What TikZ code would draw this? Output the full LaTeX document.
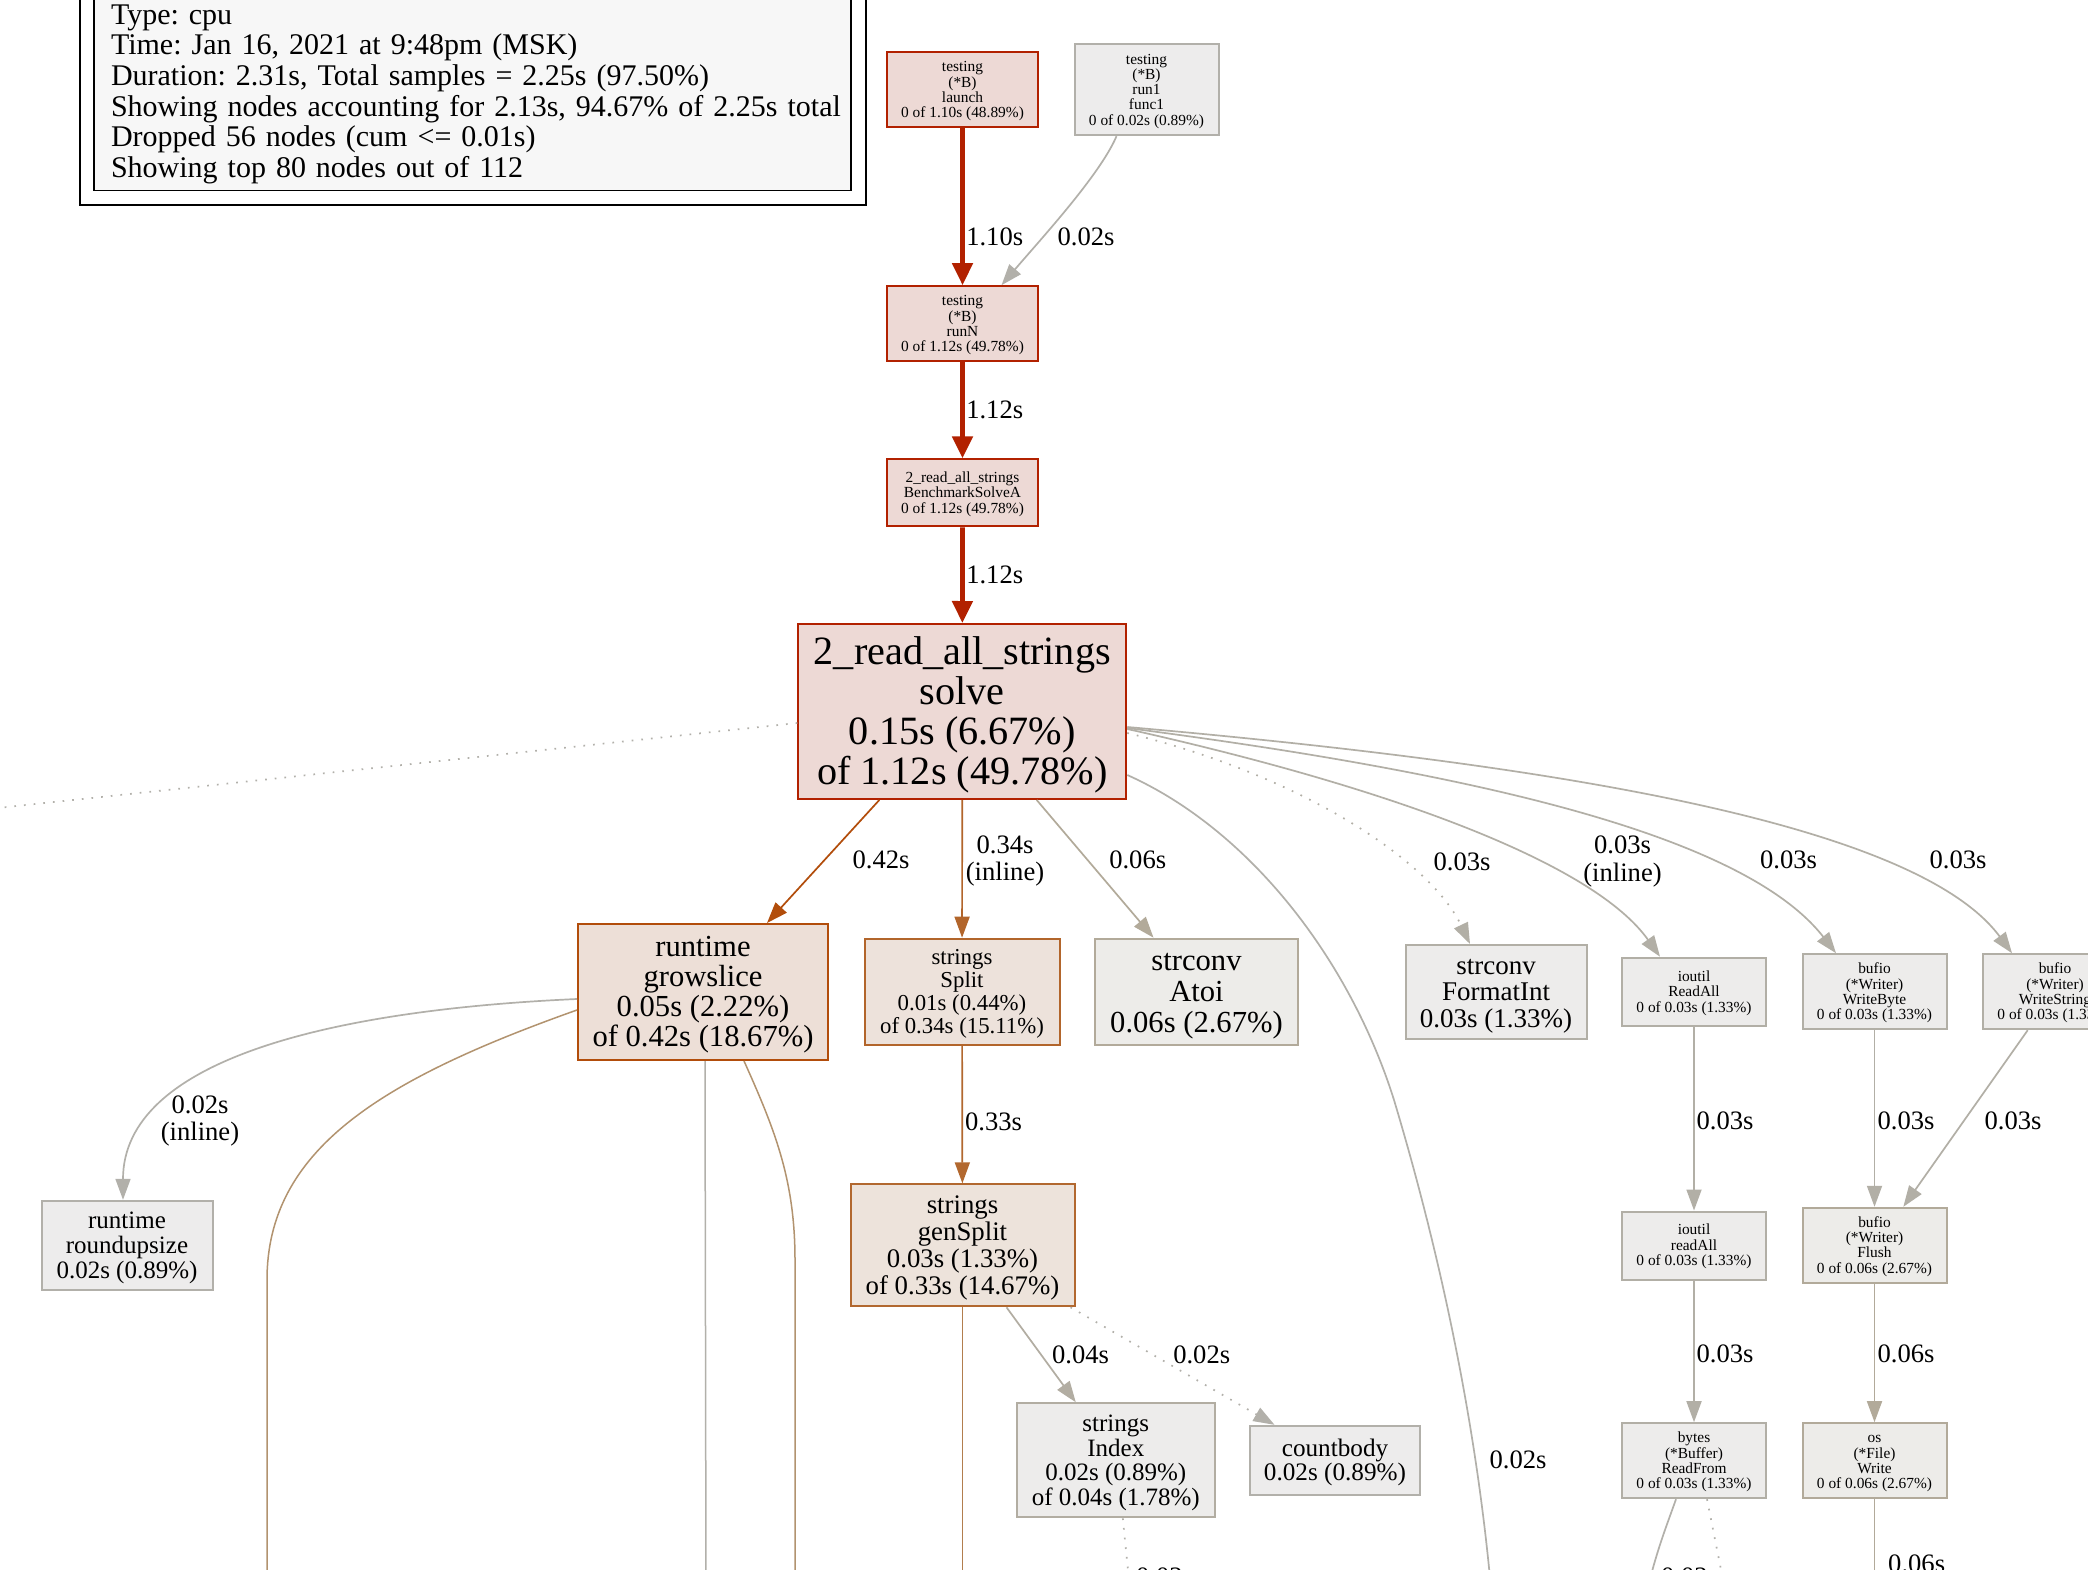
\documentclass[tikz,border=0pt]{standalone}
\usepackage{fontspec}
\setmainfont{Liberation Serif}
\usetikzlibrary{arrows.meta,calc}
\newcommand\fsz[2]{\fontsize{#1}{#2}\selectfont}
\newcommand\upr{\rule{0pt}{0.86em}}
\frenchspacing
\definecolor{redF}{HTML}{EDD9D5}
\definecolor{redD}{HTML}{B22100}
\definecolor{orF}{HTML}{EDDFD7}
\definecolor{orD}{HTML}{B24D0B}
\definecolor{spF}{HTML}{EDE2DB}
\definecolor{spD}{HTML}{B2652B}
\definecolor{gsF}{HTML}{EDE3DB}
\definecolor{gsD}{HTML}{B2682F}
\definecolor{tanD}{HTML}{B2936F}
\definecolor{tanE}{HTML}{B27E4E}
\definecolor{gaF}{HTML}{EDECEC}
\definecolor{gaD}{HTML}{B2B0AA}
\definecolor{gbF}{HTML}{EDECEB}
\definecolor{gbD}{HTML}{B2AFA6}
\definecolor{gcF}{HTML}{EDECEB}
\definecolor{gcD}{HTML}{B2ADA2}
\definecolor{gdF}{HTML}{EDECE9}
\definecolor{gdD}{HTML}{B2AA9A}
\definecolor{legF}{HTML}{F7F7F7}
\begin{document}
\begin{tikzpicture}[x=1pt,y=-1pt,
  gnode/.style={rectangle, draw, line width=2pt, inner sep=0pt, align=center, text=black},
  nred/.style={gnode, fill=redF, draw=redD},
  nor/.style={gnode, fill=orF, draw=orD},
  nsp/.style={gnode, fill=spF, draw=spD},
  ngs/.style={gnode, fill=gsF, draw=gsD},
  nga/.style={gnode, fill=gaF, draw=gaD},
  ngb/.style={gnode, fill=gbF, draw=gbD},
  ngc/.style={gnode, fill=gcF, draw=gcD},
  ngd/.style={gnode, fill=gdF, draw=gdD},
  smallf/.style={font={\fsz{15.4}{15.3}}},
  elabel/.style={font={\fsz{26.6}{27.7}}, align=center, inner sep=0pt, text=black},
  hot/.style={draw=redD, line width=4.8pt, -{Triangle[length=22pt,width=20pt]}},
  arr/.style={line width=1.7pt, -{Triangle[length=21pt,width=15pt]}},
  plain/.style={line width=1.7pt},
  dotline/.style={dash pattern=on 1.7pt off 8pt}
]
\useasboundingbox (0,0) rectangle (2088,1570);
\fill[white] (0,0) rectangle (2088,1570);
\clip (0,0) rectangle (2088,1570);

% legend
\node[draw=black, line width=1.6pt, fill=legF, text width=723pt, inner xsep=17pt, inner ysep=0pt,
  minimum height=199pt, align=left, font={\fsz{30}{30.6}}] (legend) at (472.5,91)
  {\rule{0pt}{26pt}Type: cpu\\Time: Jan 16, 2021 at 9:48pm (MSK)\\Duration: 2.31s, Total samples = 2.25s (97.50\%)\\\mbox{Showing nodes accounting for 2.13s, 94.67\% of 2.25s total}\\Dropped 56 nodes (cum <= 0.01s)\\Showing top 80 nodes out of 112};
\draw[line width=1.6pt] ($(legend.north west)+(-13,-14)$) rectangle ($(legend.south east)+(14,14)$);

% nodes
\node[nred, smallf, minimum width=151pt, minimum height=75pt] (launch) at (962.5,89.7) {\upr testing\\(*B)\\launch\\0 of 1.10s (48.89\%)};
\node[nga, smallf, minimum width=144pt, minimum height=91pt] (run1) at (1146.5,89.7) {\upr testing\\(*B)\\run1\\func1\\0 of 0.02s (0.89\%)};
\node[nred, smallf, minimum width=151pt, minimum height=75pt] (runN) at (962.5,323.7) {\upr testing\\(*B)\\runN\\0 of 1.12s (49.78\%)};
\node[nred, smallf, minimum width=151pt, minimum height=67pt] (bsa) at (962.5,492.8) {\upr 2\_read\_all\_strings\\BenchmarkSolveA\\0 of 1.12s (49.78\%)};
\node[nred, font={\fsz{40.2}{40}}, minimum width=328pt, minimum height=175pt] (solve) at (962.3,711.5) {\upr 2\_read\_all\_strings\\solve\\0.15s (6.67\%)\\of 1.12s (49.78\%)};
\node[nor, font={\fsz{30.6}{30}}, minimum width=250pt, minimum height=136pt] (grow) at (703,992) {\upr runtime\\growslice\\0.05s (2.22\%)\\of 0.42s (18.67\%)};
\node[nsp, font={\fsz{22.8}{22.8}}, minimum width=195pt, minimum height=106pt] (split) at (962,991.7) {\upr strings\\Split\\0.01s (0.44\%)\\of 0.34s (15.11\%)};
\node[ngd, font={\fsz{30.6}{31}}, minimum width=203pt, minimum height=106pt] (atoi) at (1196.5,991.7) {\upr strconv\\Atoi\\0.06s (2.67\%)};
\node[ngb, font={\fsz{27}{26.7}}, minimum width=181pt, minimum height=94pt] (fmt) at (1496,992) {\upr strconv\\FormatInt\\0.03s (1.33\%)};
\node[ngb, font={\fsz{15.4}{15.5}}, minimum width=144pt, minimum height=68pt] (readall) at (1694,991.7) {\upr ioutil\\ReadAll\\0 of 0.03s (1.33\%)};
\node[ngb, smallf, minimum width=144pt, minimum height=75pt] (wbyte) at (1874.5,991.7) {\upr bufio\\(*Writer)\\WriteByte\\0 of 0.03s (1.33\%)};
\node[ngb, smallf, minimum width=144pt, minimum height=75pt] (wstr) at (2055,991.7) {\upr bufio\\(*Writer)\\WriteString\\0 of 0.03s (1.33\%)};
\node[nga, font={\fsz{25}{25}}, minimum width=171pt, minimum height=89pt] (round) at (127,1245.3) {\upr runtime\\roundupsize\\0.02s (0.89\%)};
\node[ngs, font={\fsz{26.8}{26.7}}, minimum width=224pt, minimum height=122pt] (gensplit) at (962.5,1245.3) {\upr strings\\genSplit\\0.03s (1.33\%)\\of 0.33s (14.67\%)};
\node[ngb, font={\fsz{15.4}{15.5}}, minimum width=144pt, minimum height=68pt] (readall2) at (1694,1245.5) {\upr ioutil\\readAll\\0 of 0.03s (1.33\%)};
\node[ngd, smallf, minimum width=144pt, minimum height=75pt] (flush) at (1874.5,1245.3) {\upr bufio\\(*Writer)\\Flush\\0 of 0.06s (2.67\%)};
\node[ngc, font={\fsz{25}{24.7}}, minimum width=198pt, minimum height=114pt] (index) at (1115.8,1460.3) {\upr strings\\Index\\0.02s (0.89\%)\\of 0.04s (1.78\%)};
\node[nga, font={\fsz{25.2}{24.4}}, minimum width=170pt, minimum height=69pt] (countbody) at (1335,1460.3) {\upr countbody\\0.02s (0.89\%)};
\node[ngb, smallf, minimum width=144pt, minimum height=75pt] (readfrom) at (1694,1460.7) {\upr bytes\\(*Buffer)\\ReadFrom\\0 of 0.03s (1.33\%)};
\node[ngd, smallf, minimum width=144pt, minimum height=75pt] (oswrite) at (1874.5,1460.7) {\upr os\\(*File)\\Write\\0 of 0.06s (2.67\%)};

% off-canvas ends
\coordinate (offL) at (-40,812);
\coordinate (offS) at (1492,1600);
\coordinate (offG1) at (267,1600);
\coordinate (offG2) at (706,1600);
\coordinate (offG3) at (795,1600);
\coordinate (offGS) at (962.5,1600);
\coordinate (offI) at (1131,1600);
\coordinate (offR1) at (1645,1600);
\coordinate (offR2) at (1727,1600);
\coordinate (offW) at (1874.5,1600);

% top edges
\draw[hot] (launch) -- (runN);
\node[elabel] (l1) at (994.7,236.7) {1.10s};
\draw[arr, draw=gaD] ($(run1.south)+(-30,0)$) .. controls (1100,175) and (1040,240) .. ($(runN.north)+(39,0)$);
\node[elabel] (l2) at (1086,236.7) {0.02s};
\draw[hot] (runN) -- (bsa);
\node[elabel] (l3) at (994.7,410) {1.12s};
\draw[hot] (bsa) -- (solve);
\node[elabel] (l4) at (994.7,575) {1.12s};

% from solve
\draw[plain, dotline, draw=gaD] ($(solve.west)+(0,11.5)$) -- (offL);
\draw[arr, draw=orD] ($(solve.south)+(-83,0)$) -- ($(grow.north)+(64,0)$);
\node[elabel] (l5) at (881,860) {0.42s};
\draw[arr, draw=spD] (solve) -- (split);
\node[elabel] (l6) at (1005,861) {0.34s\\(inline)};
\draw[arr, draw=gdD] ($(solve.south)+(74.4,0)$) -- ($(atoi.north)+(-43,0)$);
\node[elabel] (l7) at (1137.7,860) {0.06s};
\draw[plain, draw=gaD] ($(solve.east)+(0,63.5)$) .. controls (1250,830) and (1350,960) .. (1394,1100) .. controls (1430,1220) and (1475,1400) .. (offS);
\node[elabel] (l8) at (1518,1460) {0.02s};
\draw[arr, dotline, draw=gbD] ($(solve.east)+(0,21.5)$) .. controls (1300,775) and (1430,860) .. ($(fmt.north)+(-26,0)$);
\node[elabel] (l9) at (1462,861.7) {0.03s};
\draw[arr, draw=gbD] ($(solve.east)+(0,17.5)$) .. controls (1400,790) and (1595,865) .. ($(readall.north)+(-34,0)$);
\node[elabel] (l10) at (1622.5,861.5) {0.03s\\(inline)};
\draw[arr, draw=gbD] ($(solve.east)+(0,16.5)$) .. controls (1450,770) and (1740,830) .. ($(wbyte.north)+(-38.5,0)$);
\node[elabel] (l11) at (1788.6,860) {0.03s};
\draw[arr, draw=gbD] ($(solve.east)+(0,15.5)$) .. controls (1500,760) and (1910,815) .. ($(wstr.north)+(-43,0)$);
\node[elabel] (l12) at (1958,860) {0.03s};

% from growslice
\draw[arr, draw=gaD] ($(grow.west)+(0,7)$) .. controls (330,1010) and (123,1060) .. ($(round.north)+(-4,0)$);
\node[elabel] (l13) at (200,1121) {0.02s\\(inline)};
\draw[line width=1.5pt, draw=tanD] ($(grow.west)+(0,18)$) .. controls (380,1080) and (267,1150) .. (267,1280) -- (offG1);
\draw[line width=1.5pt, draw=gaD] ($(grow.south)+(2,0)$) -- (offG2);
\draw[line width=1.5pt, draw=tanD] ($(grow.south)+(41,0)$) .. controls (775,1130) and (795,1180) .. (795,1260) -- (offG3);

% split / gensplit
\draw[arr, draw=gsD] (split) -- (gensplit);
\node[elabel] (l14) at (993.5,1121.7) {0.33s};
\draw[plain, draw=tanE] (gensplit) -- (offGS);
\draw[arr, draw=gcD] ($(gensplit.south)+(44,0)$) -- ($(index.north)+(-40,0)$);
\node[elabel] (l15) at (1080.6,1355) {0.04s};
\draw[arr, dotline, draw=gaD] ($(gensplit.south)+(108,0)$) -- ($(countbody.north)+(-60.5,0)$);
\node[elabel] (l16) at (1201.7,1355) {0.02s};
\draw[plain, dotline, draw=gaD] ($(index.south)+(7,0)$) -- (offI);
\node[elabel, anchor=base west] (l17) at (1136,1585) {0.02s};

% right column
\draw[arr, draw=gbD] (readall) -- (readall2);
\node[elabel] (l18) at (1725,1121) {0.03s};
\draw[arr, draw=gbD] (readall2) -- (readfrom);
\node[elabel] (l19) at (1725,1353.8) {0.03s};
\draw[arr, draw=gbD] (wbyte) -- (flush);
\node[elabel] (l20) at (1906,1121) {0.03s};
\draw[arr, draw=gbD] ($(wstr.south)+(-27.3,0)$) -- ($(flush.north)+(28.8,0)$);
\node[elabel] (l21) at (2013,1121) {0.03s};
\draw[arr, draw=gdD] (flush) -- (oswrite);
\node[elabel] (l22) at (1906,1353.8) {0.06s};
\draw[plain, draw=gdD] (oswrite) -- (offW);
\node[elabel, anchor=base west] (l23) at (1888,1572) {0.06s};
\draw[plain, draw=gaD] ($(readfrom.south)+(-18,0)$) .. controls (1665,1530) and (1655,1555) .. (offR1);
\draw[plain, dotline, draw=gaD] ($(readfrom.south)+(13,0)$) -- (offR2);
\node[elabel, anchor=base west] (l24) at (1661,1585) {0.02s};
\end{tikzpicture}
\end{document}
